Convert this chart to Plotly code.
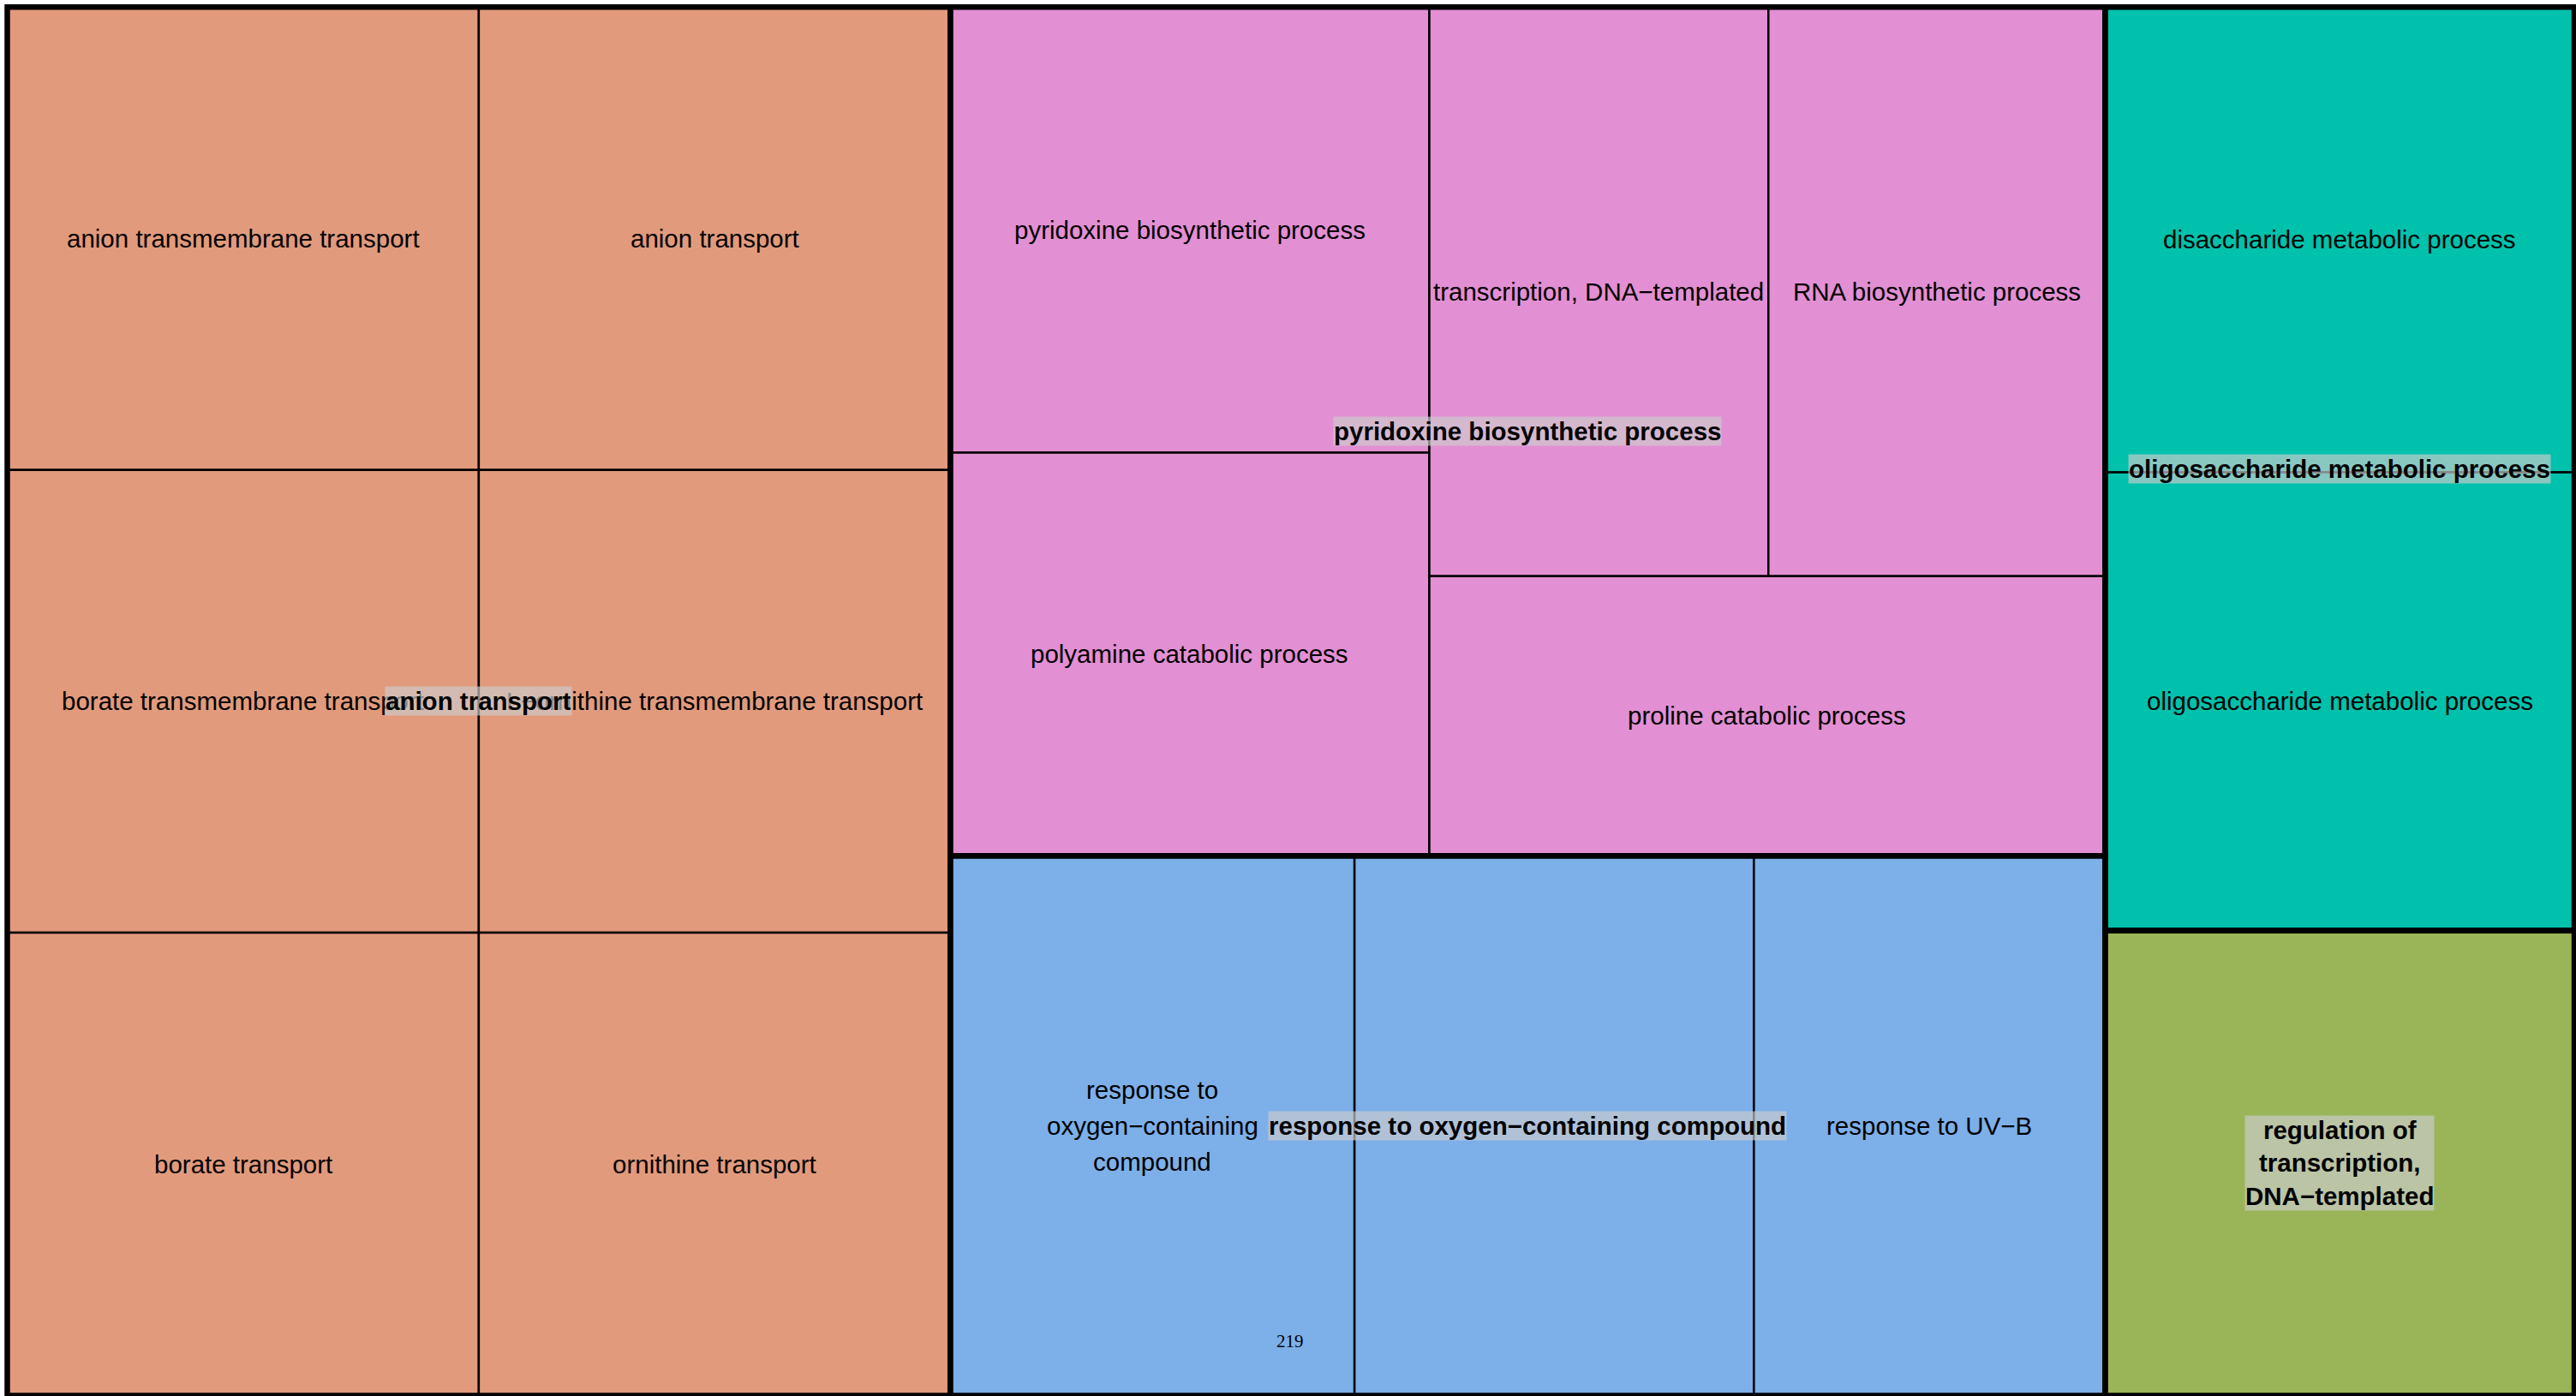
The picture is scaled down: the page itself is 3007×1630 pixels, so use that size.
import plotly.graph_objects as go

# ---------------------------------------------------------------------------
# Reduced GO terms (rrvgo-style treemap): parent cluster, term and score
# ---------------------------------------------------------------------------
groups = [
    "anion transport",
    "pyridoxine biosynthetic process",
    "response to oxygen\u2212containing compound",
    "oligosaccharide metabolic process",
    "regulation of transcription, DNA\u2212templated",
]
# text printed for each cluster (line breaks as wrapped on the tile)
group_labels = [
    "anion transport",
    "pyridoxine biosynthetic process",
    "response to oxygen\u2212containing compound",
    "oligosaccharide metabolic process",
    "regulation of\ntranscription,\nDNA\u2212templated",
]
group_colors = ["#E29A7C", "#E38FD3", "#7DAFE9", "#00C1AB", "#9AB557"]

term_parent = [0, 0, 0, 0, 0, 0,
               1, 1, 1, 1, 1,
               2, 2, 2,
               3, 3,
               4]
term_score = [1.000, 1.000, 1.000, 1.000, 1.000, 1.000,
              0.978, 0.885, 0.884, 0.878, 0.866,
              1.000, 0.988, 0.869,
              1.000, 0.985,
              1.000]
# None = label not printed (it would sit under the cluster label)
term_labels = [
    "anion transmembrane transport",
    "anion transport",
    "borate transmembrane transport",
    "borate transport",
    "L\u2212ornithine transmembrane transport",
    "ornithine transport",
    "pyridoxine biosynthetic process",
    "polyamine catabolic process",
    "transcription, DNA\u2212templated",
    "RNA biosynthetic process",
    "proline catabolic process",
    "response to\noxygen\u2212containing\ncompound",
    None,
    "response to UV\u2212B",
    "disaccharide metabolic process",
    "oligosaccharide metabolic process",
    None,
]
page_note = "219"

# ---------------------------------------------------------------------------
# Layout helpers
# ---------------------------------------------------------------------------
FIG_W, FIG_H = 3007, 1630
X0, Y0, X1, Y1 = 8.5, 8.3, 3005.0, 1629.5   # drawing region (pixels)


def pivot_size(values, x, y, w, h):
    """Ordered 'pivot-by-size' tiling; values already sorted descending."""
    n = len(values)
    if n == 0:
        return []
    if n == 1:
        return [(x, y, w, h)]
    total = sum(values)
    v0 = values[0]
    best_k, best_ar = 0, float("inf")
    for k in range(n):
        s = v0 + sum(values[1:1 + k])
        if w >= h:
            a, b = w * s / total, h * v0 / s
        else:
            a, b = h * s / total, w * v0 / s
        ar = max(a / b, b / a)
        if ar < best_ar - 1e-12:
            best_ar, best_k = ar, k
    k = best_k
    s = v0 + sum(values[1:1 + k])
    l2, l3 = values[1:1 + k], values[1 + k:]
    if w >= h:
        cw, ph = w * s / total, h * v0 / s
        return ([(x, y, cw, ph)]
                + pivot_size(l2, x, y + ph, cw, h - ph)
                + pivot_size(l3, x + cw, y, w - cw, h))
    rh, pw = h * s / total, w * v0 / s
    return ([(x, y, pw, rh)]
            + pivot_size(l2, x + pw, y, w - pw, rh)
            + pivot_size(l3, x, y + rh, w, h - rh))


def sorted_desc(idx, vals):
    return sorted(idx, key=lambda i: -vals[i])


group_size = [sum(s for p, s in zip(term_parent, term_score) if p == g)
              for g in range(len(groups))]
g_order = sorted_desc(range(len(groups)), group_size)
g_rects = dict(zip(g_order, pivot_size([group_size[g] for g in g_order],
                                       X0, Y0, X1 - X0, Y1 - Y0)))

t_rects = {}
for g in range(len(groups)):
    members = [i for i, p in enumerate(term_parent) if p == g]
    order = sorted_desc(members, term_score)
    x, y, w, h = g_rects[g]
    t_rects.update(zip(order, pivot_size([term_score[i] for i in order], x, y, w, h)))

# ---------------------------------------------------------------------------
# Figure
# ---------------------------------------------------------------------------
LABEL_FONT = "Liberation Sans, Arial, Helvetica, sans-serif"
FS = 29.5
LINE_H = 42.2      # baseline-to-baseline distance for wrapped term labels

shapes, annotations = [], []
for i in range(len(term_score)):
    x, y, w, h = t_rects[i]
    shapes.append(dict(type="rect", xref="x", yref="y", x0=x, y0=y, x1=x + w, y1=y + h,
                       fillcolor=group_colors[term_parent[i]],
                       line=dict(color="black", width=2.5), layer="below"))
    if term_labels[i]:
        lines = term_labels[i].split("\n")
        cx, cy = x + w / 2, y + h / 2
        for j, line in enumerate(lines):
            annotations.append(dict(x=cx, y=cy + (j - (len(lines) - 1) / 2) * LINE_H,
                                    xref="x", yref="y", text=line,
                                    showarrow=False, xanchor="center", yanchor="middle",
                                    font=dict(family=LABEL_FONT, size=FS, color="black")))

for g in range(len(groups)):
    x, y, w, h = g_rects[g]
    shapes.append(dict(type="rect", xref="x", yref="y", x0=x, y0=y, x1=x + w, y1=y + h,
                       fillcolor="rgba(0,0,0,0)",
                       line=dict(color="black", width=6.5), layer="above"))
    annotations.append(dict(x=x + w / 2, y=y + h / 2, xref="x", yref="y",
                            text="<b>" + group_labels[g].replace("\n", "<br>") + "</b>",
                            showarrow=False, xanchor="center", yanchor="middle",
                            bgcolor="rgba(204,204,204,0.667)", borderpad=0,
                            font=dict(family=LABEL_FONT, size=FS, color="black")))

annotations.append(dict(x=1506, y=1566, xref="x", yref="y", text=page_note,
                        showarrow=False, xanchor="center", yanchor="middle",
                        font=dict(family="Liberation Serif, Times New Roman, serif",
                                  size=21, color="black")))

fig = go.Figure()
fig.update_layout(
    width=FIG_W, height=FIG_H,
    margin=dict(l=0, r=0, t=0, b=0, pad=0),
    paper_bgcolor="white", plot_bgcolor="white",
    xaxis=dict(range=[0, FIG_W], visible=False, fixedrange=True),
    yaxis=dict(range=[FIG_H, 0], visible=False, fixedrange=True),
    shapes=shapes, annotations=annotations, showlegend=False,
)
fig.write_html("out.html")
